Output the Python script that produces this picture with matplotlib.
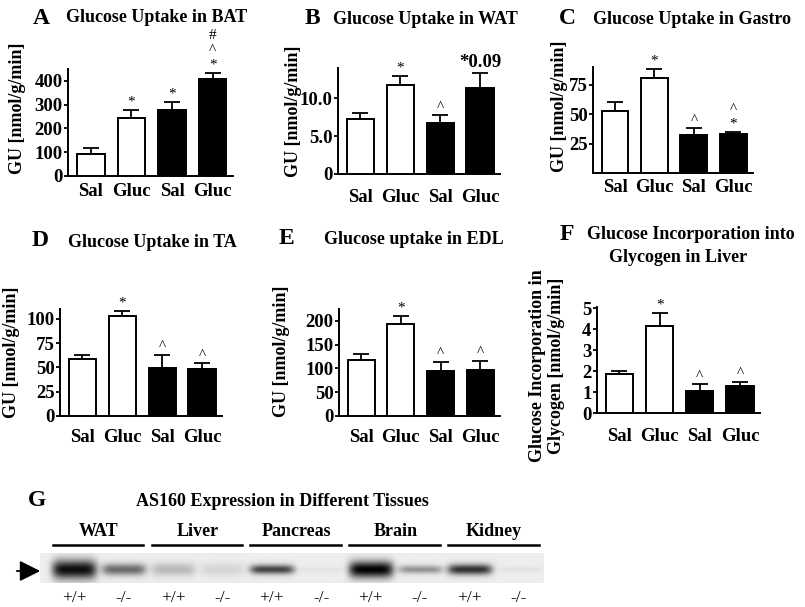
import numpy as np
import matplotlib
matplotlib.use('Agg')
import matplotlib.pyplot as plt

plt.rcParams['font.family'] = 'Liberation Serif'
plt.rcParams['font.weight'] = 'bold'

W, H = 805, 607

cats = ['Sal', 'Gluc', 'Sal', 'Gluc']
bar_colors = ['white', 'white', 'black', 'black']

bat_mean = [91, 245, 276, 408]
bat_err = [26, 31, 35, 26]
bat_marks = [[], ['*'], ['*'], ['*', '^', '#']]

wat_mean = [7.2, 11.8, 6.8, 11.4]
wat_err = [0.9, 1.1, 1.0, 2.0]
wat_marks = [[], ['*'], ['^'], ['*0.09']]

gastro_mean = [53, 80.6, 32.2, 33]
gastro_err = [7, 7.6, 5.6, 2]
gastro_marks = [[], ['*'], ['^'], ['*', '^']]

ta_mean = [58.4, 102.4, 49.8, 48.1]
ta_err = [4.5, 5.8, 13.1, 6.5]
ta_marks = [[], ['*'], ['^'], ['^']]

edl_mean = [117.5, 194.5, 95, 96.5]
edl_err = [12.5, 15.5, 19, 19.5]
edl_marks = [[], ['*'], ['^'], ['^']]

liver_mean = [1.86, 4.13, 1.07, 1.29]
liver_err = [0.16, 0.63, 0.30, 0.21]
liver_marks = [[], ['*'], ['^'], ['^']]

# western blot (panel G)
tissues = ['WAT', 'Liver', 'Pancreas', 'Brain', 'Kidney']
genotypes = ['+/+', '-/-'] * 5
band_darkness = [0.95, 0.55, 0.22, 0.10, 0.72, 0.04, 1.0, 0.38, 0.80, 0.05]
band_height = [0.32, 0.20, 0.22, 0.22, 0.16, 0.10, 0.28, 0.14, 0.18, 0.10]


def fx(px):
    return px / W


def fy(py):
    return 1 - py / H


fig = plt.figure(figsize=(W / 100, H / 100), dpi=100)


def bar_panel(box, mean, err, marks, ylim, ticks, ticklabels, pad):
    x0, y0, x1, y1 = box
    ax = fig.add_axes([fx(x0), fy(y1), fx(x1) - fx(x0), (y1 - y0) / H])
    x = np.arange(len(cats))
    ax.bar(x, mean, width=0.68, color=bar_colors, edgecolor='black', linewidth=1.4, zorder=3)
    ax.errorbar(x, mean, yerr=[np.zeros(len(err)), err], fmt='none', ecolor='black',
                elinewidth=1.3, capsize=6, capthick=1.3, zorder=2)
    for i in range(len(cats)):
        for k, m in enumerate(marks[i]):
            big = m.startswith('*0')
            ax.annotate(m, (x[i], mean[i] + err[i]), xytext=(0, 1 + 10.5 * k),
                        textcoords='offset points', ha='center', va='bottom',
                        fontsize=13.5 if big else 11, fontweight='bold' if big else 'normal',
                        annotation_clip=False)
    ax.set_xlim(-0.56, 3.5)
    ax.set_ylim(*ylim)
    ax.set_yticks(ticks)
    ax.set_yticklabels(ticklabels, fontsize=13.5, fontweight='bold')
    ax.set_xticks(x)
    ax.set_xticklabels(cats, fontsize=13.5, fontweight='bold')
    ax.tick_params(axis='x', length=0, pad=pad)
    ax.tick_params(axis='y', length=3, width=1.3, pad=1)
    for s in ['top', 'right']:
        ax.spines[s].set_visible(False)
    for s in ['left', 'bottom']:
        ax.spines[s].set_linewidth(1.4)
    return ax


def titles(letter, lx, ly, title, tx, ty):
    fig.text(fx(lx), fy(ly), letter, fontsize=17, fontweight='bold', ha='center', va='center')
    fig.text(fx(tx), fy(ty), title, fontsize=13, fontweight='bold', ha='center', va='center')


def ylab(text, px, py):
    fig.text(fx(px), fy(py), text, rotation=90, fontsize=13, fontweight='bold',
             ha='center', va='center', linespacing=1.1)


# A
bar_panel((68, 69, 233, 176), bat_mean, bat_err, bat_marks, (0, 450),
          [0, 100, 200, 300, 400], ['0', '100', '200', '300', '400'], 5)
titles('A', 41, 19, 'Glucose Uptake in BAT', 157, 18)
ylab('GU [nmol/g/min]', 17, 108)

# B
bar_panel((338, 68, 500, 174), wat_mean, wat_err, wat_marks, (0, 14),
          [0, 5, 10], ['0', '5.0', '10.0'], 11)
titles('B', 312, 19, 'Glucose Uptake in WAT', 425, 20)
ylab('GU [nmol/g/min]', 293, 111)

# C
bar_panel((593, 67, 753, 173), gastro_mean, gastro_err, gastro_marks, (0, 90),
          [25, 50, 75], ['25', '50', '75'], 4)
titles('C', 567, 19, 'Glucose Uptake in Gastro', 692, 20)
ylab('GU [nmol/g/min]', 559, 106)

# D
bar_panel((60, 309, 222, 416), ta_mean, ta_err, ta_marks, (0, 110),
          [0, 25, 50, 75, 100], ['0', '25', '50', '75', '100'], 9)
titles('D', 40, 241, 'Glucose Uptake in TA', 152, 242)
ylab('GU [nmol/g/min]', 11, 352)

# E
bar_panel((339, 309, 500, 416), edl_mean, edl_err, edl_marks, (0, 225),
          [0, 50, 100, 150, 200], ['0', '50', '100', '150', '200'], 9)
titles('E', 286, 239, 'Glucose uptake in EDL', 414, 240)
ylab('GU [nmol/g/min]', 282, 351)

# F
bar_panel((597, 307, 760, 413), liver_mean, liver_err, liver_marks, (0, 5.05),
          [0, 1, 2, 3, 4, 5], ['0', '1', '2', '3', '4', '5'], 11)
titles('F', 567, 234, 'Glucose Incorporation into', 691, 234)
fig.text(fx(678), fy(257), 'Glycogen in Liver', fontsize=13, fontweight='bold',
         ha='center', va='center')
ylab('Glucose Incorporation in\nGlycogen [nmol/g/min]', 547, 366)

# G - blot
fig.text(fx(37), fy(500), 'G', fontsize=17, fontweight='bold', ha='center', va='center')
fig.text(fx(282), fy(502), 'AS160 Expression in Different Tissues', fontsize=13,
         fontweight='bold', ha='center', va='center')

bx0, by0, bx1, by1 = 40, 553, 543, 583
axb = fig.add_axes([fx(bx0), fy(by1), fx(bx1) - fx(bx0), (by1 - by0) / H])
xl = (-0.69, 9.49)
gx = np.linspace(xl[0], xl[1], 600)
gy = np.linspace(0, 1, 60)
XX, YY = np.meshgrid(gx, gy)
dark = np.zeros_like(XX)
for i, (d, h) in enumerate(zip(band_darkness, band_height)):
    dark += d * np.exp(-((XX - i) / 0.45) ** 6) * np.exp(-((YY - 0.55) / h) ** 2)
img = np.clip(0.93 - 0.93 * np.clip(dark, 0, 1), 0, 1)
axb.imshow(img, cmap='gray', vmin=0, vmax=1, aspect='auto',
           extent=[xl[0], xl[1], 1, 0], interpolation='bilinear')
axb.set_xlim(*xl)
axb.set_ylim(1, 0)
axb.axis('off')

for i, g in enumerate(genotypes):
    axb.text(i, 1.5, g, ha='center', va='center', fontsize=12.5, fontweight='normal',
             clip_on=False)
for j, t in enumerate(tissues):
    c = 2 * j + 0.5
    axb.text(c, -0.72, t, ha='center', va='center', fontsize=13, fontweight='bold', clip_on=False)
    axb.plot([c - 0.93, c + 0.9], [-0.27, -0.27], color='black', lw=1.8, clip_on=False)

fig.add_artist(matplotlib.patches.FancyArrowPatch(
    (fx(14), fy(571)), (fx(43), fy(571)), transform=fig.transFigure,
    arrowstyle='-|>,head_length=0.9,head_width=0.45', mutation_scale=14,
    color='black', lw=1.3))

fig.savefig('out.png', dpi=100)
